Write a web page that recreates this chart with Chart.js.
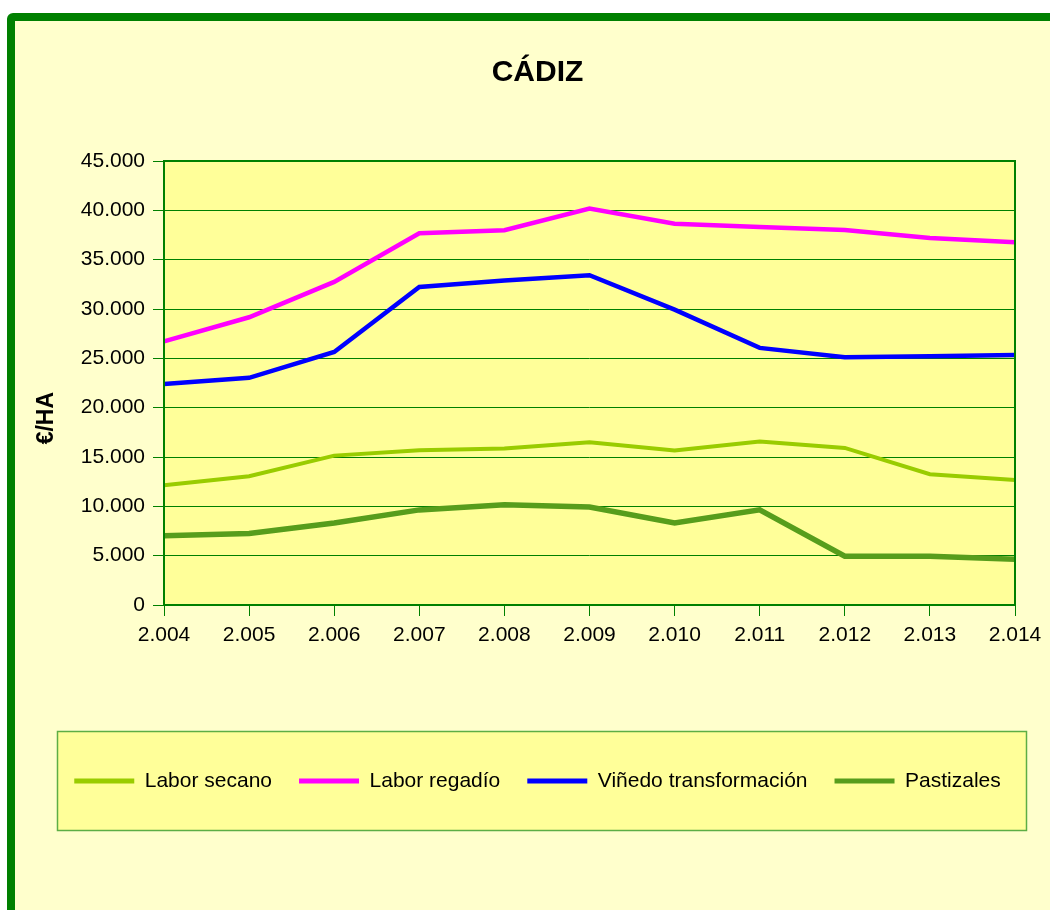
<!DOCTYPE html>
<html>
<head>
<meta charset="utf-8">
<script src="https://cdn.jsdelivr.net/npm/chart.js@4"></script>
<style>
html,body{margin:0;padding:0;background:#ffffff;width:1050px;height:910px;overflow:hidden;}
#frame{position:absolute;left:7px;top:13px;width:1120px;height:980px;border:8px solid #008000;border-radius:6px;background:#FFFFCC;box-sizing:border-box;}
#wrap{position:absolute;left:0;top:0;width:1050px;height:910px;}
</style>
</head>
<body>
<div id="frame"></div>
<div id="wrap"><canvas id="c" width="1050" height="910"></canvas></div>
<script>
const categories = ['2.004','2.005','2.006','2.007','2.008','2.009','2.010','2.011','2.012','2.013','2.014'];
const laborSecano = [12130, 13050, 15140, 15680, 15850, 16490, 15650, 16560, 15920, 13250, 12680];
const laborRegadio = [26720, 29160, 32750, 37670, 37980, 40170, 38650, 38320, 38000, 37200, 36760];
const vinedoTransformacion = [22410, 23020, 25650, 32240, 32880, 33420, 29940, 26060, 25100, 25200, 25350];
const pastizales = [7030, 7240, 8320, 9640, 10170, 9940, 8320, 9640, 4940, 4940, 4630];
const seriesNames = ['Labor secano', 'Labor regadío', 'Viñedo transformación', 'Pastizales'];
const yMin = 0, yMax = 45000, yStep = 5000;
const chartTitle = 'CÁDIZ';
const yTitle = '€/HA';

const FONT = '"Liberation Sans", Arial, sans-serif';
const GREEN = '#008000';

function fmt(v){ return String(v).replace(/\B(?=(\d{3})+(?!\d))/g, '.'); }

const decor = {
  id: 'decor',
  beforeDraw(chart){
    const {ctx, chartArea: a} = chart;
    ctx.save();
    ctx.fillStyle = '#FFFF99';
    ctx.fillRect(a.left, a.top, a.right - a.left, a.bottom - a.top);
    // legend frame
    ctx.fillRect(57, 731, 970, 100);
    ctx.strokeStyle = '#5DAE45';
    ctx.lineWidth = 1.5;
    ctx.strokeRect(57.5, 731.5, 969, 99);
    ctx.restore();
  },
  afterDatasetsDraw(chart){
    const {ctx, chartArea: a} = chart;
    ctx.save();
    ctx.strokeStyle = GREEN;
    ctx.lineWidth = 2;
    ctx.strokeRect(a.left, a.top, a.right - a.left, a.bottom - a.top);
    ctx.restore();
  }
};

const colors = ['#99CC00', '#FF00FF', '#0000FF', '#579D1C'];
const widths = [4, 4.5, 4.5, 5.5];
const values = [laborSecano, laborRegadio, vinedoTransformacion, pastizales];

new Chart(document.getElementById('c'), {
  type: 'line',
  data: {
    labels: categories,
    datasets: seriesNames.map((n, i) => ({
      label: n,
      data: values[i],
      borderColor: colors[i],
      backgroundColor: colors[i],
      borderWidth: widths[i],
      pointRadius: 0,
      pointHoverRadius: 0,
      tension: 0,
      fill: false,
      yAxisID: 'y'
    }))
  },
  options: {
    responsive: false,
    animation: false,
    devicePixelRatio: 1,
    layout: { padding: { left: 25, right: 0, top: 0, bottom: 108.5 } },
    plugins: {
      tooltip: { enabled: false },
      title: {
        display: true,
        text: chartTitle,
        color: '#000',
        font: { family: FONT, size: 30, weight: 'bold', lineHeight: 1.2 },
        padding: { top: 55, bottom: 70 }
      },
      legend: {
        display: true,
        position: 'bottom',
        labels: {
          color: '#000',
          font: { family: FONT, size: 21 },
          boxWidth: 60,
          boxHeight: 5,
          padding: 27,
          generateLabels(chart){
            return chart.data.datasets.map((d, i) => ({
              text: d.label,
              fillStyle: d.borderColor,
              strokeStyle: d.borderColor,
              lineWidth: 0,
              hidden: false,
              datasetIndex: i
            }));
          }
        }
      }
    },
    scales: {
      x: {
        type: 'category',
        offset: false,
        grid: { display: true, drawOnChartArea: false, drawTicks: true, tickLength: 11, color: GREEN, lineWidth: 1 },
        border: { display: false },
        ticks: { color: '#000', font: { family: FONT, size: 21 }, padding: 7, maxRotation: 0, autoSkip: false },
        afterFit(s){ s.height = 138.5; }
      },
      y: {
        type: 'linear',
        position: 'left',
        min: yMin, max: yMax,
        grid: { display: true, drawOnChartArea: true, drawTicks: true, tickLength: 11, color: GREEN, lineWidth: 1 },
        border: { display: false },
        ticks: { stepSize: yStep, color: '#000', font: { family: FONT, size: 21 }, padding: 8, callback: v => fmt(v) },
        title: {
          display: true,
          text: yTitle + '           ',
          color: '#000',
          font: { family: FONT, size: 23, weight: 'bold', lineHeight: 1.2 },
          padding: { top: 8.2, bottom: 0 }
        },
        afterFit(s){ s.width = 139; }
      },
      y2: {
        type: 'linear',
        position: 'right',
        display: true,
        grid: { display: false, drawTicks: false },
        border: { display: false },
        ticks: { display: false },
        afterFit(s){ s.width = 35; }
      }
    }
  },
  plugins: [decor]
});
</script>
</body>
</html>
